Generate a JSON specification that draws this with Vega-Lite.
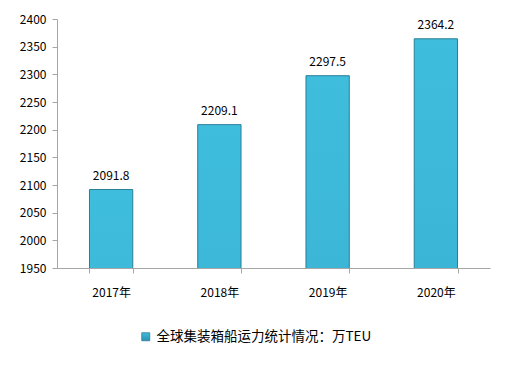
{
  "$schema": "https://vega.github.io/schema/vega-lite/v6.json",
  "width": 433,
  "height": 249,
  "autosize": "none",
  "padding": {"left": 57, "top": 19, "right": 16, "bottom": 98},
  "background": "white",
  "config": {
    "view": {"stroke": null},
    "font": "Noto Sans CJK SC",
    "axis": {"labelFont": "Noto Sans CJK SC", "labelFontSize": 12, "labelColor": "#000000", "domainColor": "#a6a6a6", "tickColor": "#a6a6a6", "grid": false, "title": null}
  },
  "data": {
    "values": [
      {"year": "2017年", "value": 2091.8, "series": "全球集装箱船运力统计情况：万TEU"},
      {"year": "2018年", "value": 2209.1, "series": "全球集装箱船运力统计情况：万TEU"},
      {"year": "2019年", "value": 2297.5, "series": "全球集装箱船运力统计情况：万TEU"},
      {"year": "2020年", "value": 2364.2, "series": "全球集装箱船运力统计情况：万TEU"}
    ]
  },
  "encoding": {
    "x": {
      "field": "year", "type": "nominal",
      "scale": {"paddingInner": 0.6, "paddingOuter": 0.3},
      "axis": {"labelAngle": 0, "tickBand": "extent", "tickSize": 5, "labelPadding": 14, "zindex": 1}
    },
    "y": {
      "field": "value", "type": "quantitative",
      "scale": {"domain": [1950, 2400], "zero": false, "nice": false},
      "axis": {"values": [1950, 2000, 2050, 2100, 2150, 2200, 2250, 2300, 2350, 2400], "format": "d", "tickSize": 5, "labelPadding": 6}
    }
  },
  "layer": [
    {
      "mark": {"type": "bar", "clip": true, "strokeWidth": 1, "fill": {"gradient": "linear", "x1": 0, "y1": 0, "x2": 0, "y2": 1, "stops": [{"offset": 0, "color": "#3fbddd"}, {"offset": 0.5, "color": "#34a6c6"}, {"offset": 1, "color": "#2b93b1"}]}},
      "encoding": {
        "stroke": {
          "field": "series", "type": "nominal",
          "scale": {"range": ["#287f98"]},
          "legend": {"orient": "none", "legendX": 82, "legendY": 311, "direction": "horizontal", "title": null, "symbolType": "square", "symbolSize": 64, "labelFontSize": 13.5, "labelFont": "Noto Sans CJK SC", "labelColor": "#000000", "labelLimit": 500, "labelOffset": 4, "symbolFillColor": "#36aacb", "symbolStrokeWidth": 0.8,
            "encode": {"symbols": {"update": {"fill": {"value": "#36aacb"}, "fillOpacity": {"value": 1}}}}}
        }
      }
    },
    {
      "mark": {"type": "text", "dy": -14, "fontSize": 12, "font": "Noto Sans CJK SC", "color": "#000000"},
      "encoding": {"text": {"field": "value", "type": "quantitative", "format": ".1f"}}
    }
  ]
}
